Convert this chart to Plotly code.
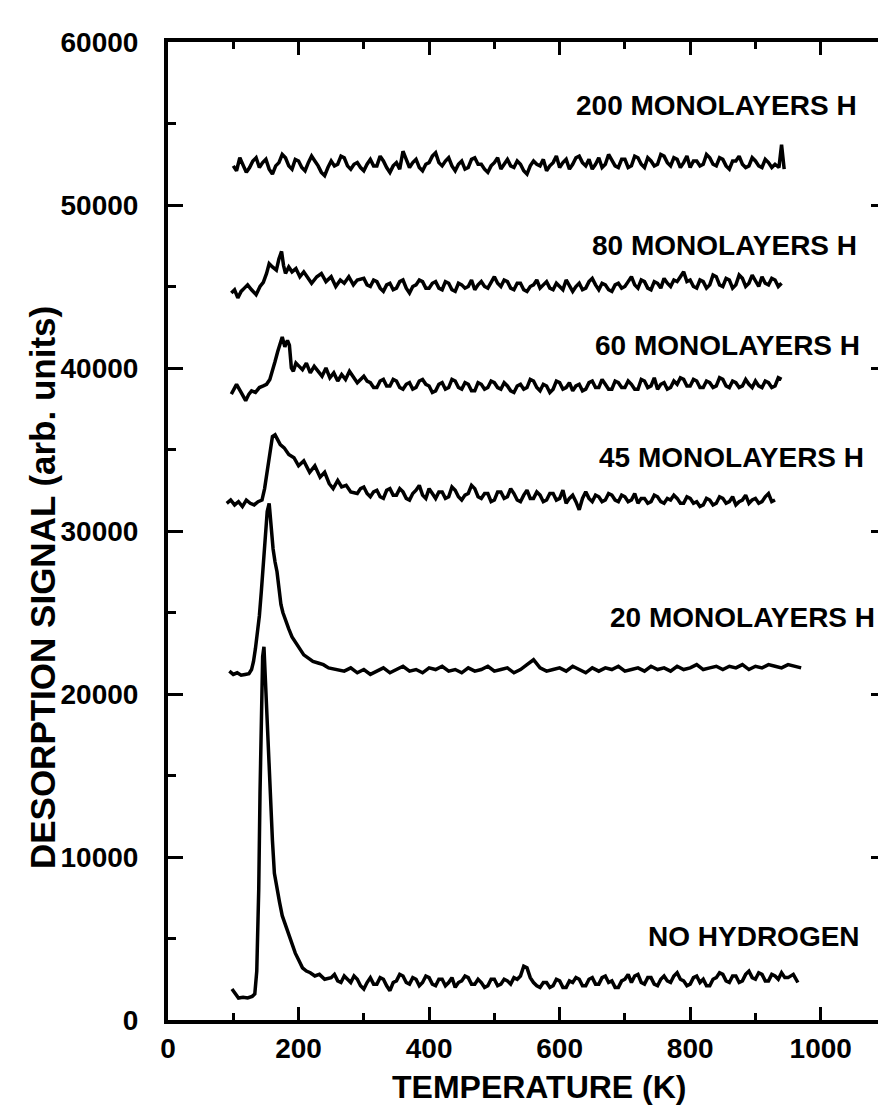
import plotly.graph_objects as go

# ---------------- data ----------------
# temperature sampling grids (K) for the flat parts of the curves
GRID10 = [90, 100, 110, 120, 130, 140, 150, 160, 170, 180,
          190, 200, 210, 220, 230, 240, 250, 260, 270, 280,
          290, 300, 310, 320, 330, 340, 350, 360, 370, 380,
          390, 400, 410, 420, 430, 440, 450, 460, 470, 480,
          490, 500, 510, 520, 530, 540, 550, 560, 570, 580,
          590, 600, 610, 620, 630, 640, 650, 660, 670, 680,
          690, 700, 710, 720, 730, 740, 750, 760, 770, 780,
          790, 800, 810, 820, 830, 840, 850, 860, 870, 880,
          890, 900, 910, 920, 930, 940, 950, 960, 970]
GRID5 = [90, 95, 100, 105, 110, 115, 120, 125, 130, 135,
         140, 145, 150, 155, 160, 165, 170, 175, 180, 185,
         190, 195, 200, 205, 210, 215, 220, 225, 230, 235,
         240, 245, 250, 255, 260, 265, 270, 275, 280, 285,
         290, 295, 300, 305, 310, 315, 320, 325, 330, 335,
         340, 345, 350, 355, 360, 365, 370, 375, 380, 385,
         390, 395, 400, 405, 410, 415, 420, 425, 430, 435,
         440, 445, 450, 455, 460, 465, 470, 475, 480, 485,
         490, 495, 500, 505, 510, 515, 520, 525, 530, 535,
         540, 545, 550, 555, 560, 565, 570, 575, 580, 585,
         590, 595, 600, 605, 610, 615, 620, 625, 630, 635,
         640, 645, 650, 655, 660, 665, 670, 675, 680, 685,
         690, 695, 700, 705, 710, 715, 720, 725, 730, 735,
         740, 745, 750, 755, 760, 765, 770, 775, 780, 785,
         790, 795, 800, 805, 810, 815, 820, 825, 830, 835,
         840, 845, 850, 855, 860, 865, 870, 875, 880, 885,
         890, 895, 900, 905, 910, 915, 920, 925, 930, 935,
         940, 945, 950, 955, 960, 965, 970]

# NO HYDROGEN
noh_peak_T = [98, 103, 108, 115, 122, 129, 133, 136, 139, 141,
              143, 145, 147, 149, 151, 154, 157, 160, 163, 167,
              171, 175, 180, 185, 190, 195, 200, 206, 212, 218,
              225, 232, 240]
noh_peak_S = [1900, 1600, 1350, 1400, 1350, 1450, 1600, 3000, 8000, 14000,
              19500, 22300, 22900, 21000, 18500, 15500, 13500, 11000, 9000, 8000,
              7200, 6400, 5800, 5200, 4600, 4100, 3700, 3200, 3000, 2900,
              2700, 2800, 2500]
noh_tail_start = 250
noh_tail_S = [2600, 2800, 2400, 2300, 2700, 2500, 2300, 2700, 2500, 2100,
              1900, 2300, 2600, 2200, 2200, 2600, 2500, 2100, 1800, 2300,
              2400, 2800, 2700, 2300, 2200, 2600, 2500, 2100, 2300, 2700,
              2600, 2200, 2100, 2500, 2500, 2100, 2300, 2600, 2000, 2300,
              2400, 2700, 2600, 2200, 2200, 2500, 2300, 2000, 2100, 2500,
              2500, 2100, 2200, 2500, 2400, 2200, 2600, 2500, 2700, 3300,
              3200, 2600, 2300, 2100, 2000, 2300, 2300, 2000, 2100, 2500,
              2400, 2000, 2000, 2400, 2300, 2600, 2500, 2100, 2100, 2500,
              2600, 2200, 2200, 2600, 2700, 2300, 2400, 2000, 2000, 2400,
              2500, 2800, 2300, 2700, 2800, 2300, 2200, 2600, 2600, 2200,
              2100, 2500, 2700, 2400, 2300, 2700, 2900, 2500, 2400, 2100,
              2200, 2600, 2700, 2300, 2500, 2100, 2100, 2500, 2600, 2900,
              2800, 2400, 2300, 2700, 2700, 2300, 2400, 2800, 3000, 2600,
              2500, 2900, 2800, 2400, 2400, 2800, 2700, 2500, 2900, 2600,
              2600]
noh_end_T = [958, 965]
noh_end_S = [2800, 2300]

# 20 MONOLAYERS H
ml20_peak_T = [94, 100, 106, 112, 118, 124, 128, 131, 134, 137,
               140, 143, 146, 149, 152, 155, 158, 161, 164, 167,
               170, 173, 176, 180, 185, 190, 196, 202, 208, 215,
               222, 230, 238, 246]
ml20_peak_S = [21400, 21200, 21300, 21150, 21200, 21250, 21500, 22000, 22800, 23700,
               24800, 26300, 28000, 29800, 31200, 31700, 30200, 28900, 28100, 27500,
               26500, 25500, 25000, 24500, 24000, 23500, 23100, 22800, 22400, 22200,
               22000, 21900, 21800, 21600]
ml20_tail_start = 260
ml20_tail_S = [21500, 21400, 21600, 21300, 21500, 21200, 21400, 21600, 21300, 21500,
               21700, 21400, 21500, 21300, 21600, 21500, 21700, 21400, 21500, 21300,
               21600, 21400, 21500, 21700, 21400, 21500, 21600, 21300, 21500, 21800,
               22100, 21600, 21400, 21500, 21600, 21400, 21700, 21500, 21300, 21600,
               21400, 21600, 21500, 21700, 21400, 21500, 21600, 21400, 21700, 21500,
               21600, 21400, 21700, 21500, 21600, 21800, 21500, 21600, 21700, 21500,
               21700, 21600, 21800, 21500, 21700, 21600, 21800, 21700, 21600, 21800,
               21700, 21600]

# 45 MONOLAYERS H
ml45_peak_T = [90, 96, 102, 108, 114, 120, 126, 132, 138, 144,
               148, 152, 156, 160, 164, 168, 172, 178, 185, 193,
               200, 208, 217, 225, 233, 240, 247, 253, 260, 266,
               273, 280]
ml45_peak_S = [31700, 31900, 31600, 31800, 31500, 31900, 31700, 31600, 31800, 31900,
               32600, 33800, 35000, 35800, 35900, 35600, 35300, 35100, 34700, 34500,
               34000, 34300, 33600, 34000, 33300, 33600, 32900, 32600, 33100, 32700,
               32800, 32400]
ml45_tail_start = 290
ml45_tail_S = [32300, 32600, 32700, 32300, 32100, 32400, 32500, 32100, 32000, 32500,
               32600, 32200, 32200, 32600, 32400, 32000, 31900, 32300, 32500, 32800,
               32200, 32000, 32600, 32300, 32000, 32400, 32400, 32000, 32100, 32700,
               32500, 32100, 31900, 32200, 32300, 32800, 32600, 32100, 32000, 32300,
               32300, 31800, 31900, 32400, 32400, 32000, 32100, 32600, 32300, 31900,
               31800, 32200, 32500, 32000, 32000, 32400, 32200, 31800, 31900, 32300,
               32300, 31900, 32000, 32500, 31700, 32000, 32200, 31800, 31300, 32000,
               32400, 32000, 31800, 32200, 32100, 31800, 31900, 32300, 32200, 31900,
               31800, 32200, 32100, 31800, 31900, 32300, 31700, 32000, 32000, 31700,
               31800, 32200, 32100, 31800, 31700, 32000, 31900, 32200, 32000, 31700,
               31700, 32100, 32000, 31700, 31800, 31500, 31600, 32000, 31900, 31600,
               31700, 32100, 32000, 31700, 31800, 32100, 31600, 31800, 31900, 32200,
               31700, 31900, 32000, 31700, 31800, 32100, 32300, 31800, 31900]

# 60 MONOLAYERS H
ml60_peak_T = [97, 105, 112, 119, 124, 128, 134, 140, 146, 151,
               156, 160, 164, 168, 172, 175, 179, 183, 186, 189,
               192, 196, 201, 206, 212, 218, 224, 230, 236, 242,
               248, 254, 260, 266, 272, 278, 284, 290]
ml60_peak_S = [38400, 39000, 38500, 38000, 38400, 38600, 38500, 38800, 38900, 39000,
               39300, 39800, 40400, 41000, 41500, 41900, 41300, 41700, 41400, 40000,
               39800, 40300, 40100, 39900, 40300, 39700, 40100, 39800, 39500, 40000,
               39400, 39700, 39200, 39600, 39300, 39800, 39400, 39100]
ml60_tail_start = 300
ml60_tail_S = [39500, 39200, 39100, 38800, 38800, 39200, 39300, 38900, 38900, 39300,
               39200, 38800, 38700, 39000, 39100, 38700, 38800, 39200, 39300, 39000,
               38900, 38500, 38600, 39000, 39100, 38700, 38800, 39300, 39200, 38800,
               38700, 39100, 39000, 38600, 38600, 39100, 39000, 38700, 38800, 39200,
               39100, 38800, 38700, 39100, 38900, 38600, 38500, 38900, 39000, 38700,
               38800, 39300, 39200, 38800, 38600, 39000, 38900, 38500, 38700, 39200,
               39100, 38700, 38800, 39100, 38600, 38900, 39000, 38600, 38700, 39100,
               39200, 38800, 38800, 39300, 39000, 38700, 38700, 39200, 39100, 38800,
               38800, 39200, 39000, 38700, 38700, 39300, 39200, 38800, 38900, 39400,
               38700, 39000, 39100, 38700, 38800, 39200, 39000, 39400, 39300, 38900,
               38900, 39300, 39200, 38800, 38800, 39200, 39100, 38800, 38900, 39400,
               39300, 38900, 38800, 39200, 39100, 38800, 38900, 39300, 39000, 38800,
               39200, 38900, 38800, 39200, 39100, 38800, 38900, 39400, 39300]

# 80 MONOLAYERS H
ml80_peak_T = [97, 102, 107, 112, 117, 122, 128, 135, 141, 146,
               151, 155, 160, 166, 170, 174, 177, 180, 185, 190,
               196, 202, 208, 214, 220, 228, 235, 242, 250, 257,
               264, 270, 277, 284, 290]
ml80_peak_S = [44600, 44800, 44300, 44700, 44900, 45100, 44800, 44500, 45000, 45250,
               45800, 46400, 46200, 46000, 46700, 47150, 46300, 45800, 46200, 45900,
               46100, 45600, 45900, 45500, 45200, 45600, 45800, 45300, 45600, 45000,
               45400, 45200, 45600, 45100, 45400]
ml80_tail_start = 300
ml80_tail_S = [45500, 45100, 45000, 45400, 45300, 44900, 44700, 45100, 45200, 44800,
               44900, 45300, 45400, 44900, 44600, 45000, 45100, 45400, 45300, 44900,
               44900, 45200, 45300, 44900, 44800, 45300, 45200, 44800, 44700, 45200,
               45100, 44900, 45000, 45400, 44800, 45100, 45300, 45000, 44900, 45300,
               45600, 45200, 45000, 45400, 45300, 44900, 44800, 45200, 45200, 44800,
               44700, 45000, 45100, 45400, 44900, 45100, 45300, 44900, 44800, 45200,
               45000, 44800, 45400, 45000, 44700, 45000, 45200, 44800, 44900, 45300,
               45500, 45100, 44800, 45200, 45100, 44800, 44700, 45100, 45200, 44900,
               45000, 45300, 45600, 45100, 44900, 45400, 45300, 44900, 44800, 45300,
               45200, 44900, 45500, 45200, 45000, 45400, 45300, 45600, 45900, 45300,
               45400, 45000, 44900, 45400, 45300, 44900, 45100, 45700, 45600, 45100,
               45000, 45500, 45400, 44900, 45100, 45700, 45500, 45000, 45200, 45700,
               45300, 45000, 45600, 45200, 45100, 45500, 45400, 45000, 45200]

# 200 MONOLAYERS H
ml200_tail_start = 100
ml200_tail_S = [52400, 52100, 52900, 52500, 52000, 52300, 52700, 52900, 52300, 52600,
                52800, 52200, 51900, 52400, 52600, 53100, 52900, 52400, 52200, 52800,
                52700, 52300, 52100, 52600, 53000, 52700, 52400, 52000, 51800, 52300,
                52700, 52400, 52500, 53000, 52900, 52400, 52200, 52500, 52600, 52300,
                52100, 52500, 52800, 52400, 52400, 53000, 52700, 52300, 52000, 52400,
                52600, 52200, 53300, 52800, 52300, 52600, 52800, 52300, 52100, 52500,
                52600, 53000, 53200, 52600, 52400, 52700, 52900, 52400, 52100, 52500,
                52700, 52200, 52300, 52800, 52900, 52500, 52500, 52200, 52000, 52400,
                52600, 52900, 52200, 52500, 52800, 52400, 52300, 52700, 52500, 52100,
                51900, 52400, 52700, 52500, 52400, 52800, 52100, 52400, 52600, 53000,
                52300, 52600, 52800, 52200, 52500, 52900, 53000, 52600, 52400, 52800,
                52200, 52500, 52900, 52300, 52500, 53100, 52700, 52400, 52300, 52800,
                52800, 52300, 52400, 53000, 52900, 52500, 52300, 52900, 52700, 52400,
                52500, 53100, 53000, 52600, 52400, 52900, 52800, 52300, 52600, 53000,
                52300, 52700, 52700, 52400, 52500, 53100, 52900, 52500, 52400, 52900,
                52800, 52400, 52200, 52700, 52700, 53000, 52500, 52300, 52400, 52900,
                52700, 52400, 52300, 52800, 52600, 52300, 52500]
ml200_end_T = [936, 940, 944]
ml200_end_S = [52300, 53700, 52200]

# curve labels: text, x (K) of right end, y (signal) of centre
label_text = ["200 MONOLAYERS H", "80 MONOLAYERS H", "60 MONOLAYERS H",
              "45 MONOLAYERS H", "20 MONOLAYERS H", "NO HYDROGEN"]
label_x = [1059, 1059, 1063, 1069, 1086, 1063]
label_y = [56100, 47500, 41400, 34500, 24700, 5150]

x_ticks = [0, 200, 400, 600, 800, 1000]
y_ticks = [0, 10000, 20000, 30000, 40000, 50000, 60000]


def tail(grid, start, values):
    i = grid.index(start)
    return grid[i:i + len(values)]


curves = [
    (noh_peak_T + tail(GRID5, noh_tail_start, noh_tail_S) + noh_end_T,
     noh_peak_S + noh_tail_S + noh_end_S),
    (ml20_peak_T + tail(GRID10, ml20_tail_start, ml20_tail_S),
     ml20_peak_S + ml20_tail_S),
    (ml45_peak_T + tail(GRID5, ml45_tail_start, ml45_tail_S),
     ml45_peak_S + ml45_tail_S),
    (ml60_peak_T + tail(GRID5, ml60_tail_start, ml60_tail_S),
     ml60_peak_S + ml60_tail_S),
    (ml80_peak_T + tail(GRID5, ml80_tail_start, ml80_tail_S),
     ml80_peak_S + ml80_tail_S),
    (tail(GRID5, ml200_tail_start, ml200_tail_S) + ml200_end_T,
     ml200_tail_S + ml200_end_S),
]

FONT = "Liberation Sans, Arial, Helvetica, sans-serif"

fig = go.Figure()
for T, S in curves:
    n = min(len(T), len(S))
    fig.add_trace(go.Scatter(x=T[:n], y=S[:n], mode="lines",
                             line=dict(color="black", width=3.5),
                             showlegend=False, hoverinfo="skip"))

for txt, lx, ly in zip(label_text, label_x, label_y):
    fig.add_annotation(x=lx, y=ly, xref="x", yref="y", text=txt,
                       showarrow=False, xanchor="right", yanchor="middle",
                       font=dict(family=FONT, size=28, color="black",
                                 weight="bold"))

# axis titles
fig.add_annotation(x=0.517, y=-0.068, xref="paper", yref="paper",
                   text="TEMPERATURE (K)", showarrow=False,
                   xanchor="center", yanchor="middle",
                   font=dict(family=FONT, size=32, color="black",
                             weight="bold"))
fig.add_annotation(x=-0.175, y=0.442, xref="paper", yref="paper",
                   text="DESORPTION SIGNAL (arb. units)", showarrow=False,
                   textangle=-90, xanchor="center", yanchor="middle",
                   font=dict(family=FONT, size=35, color="black",
                             weight="bold"))

tickfont = dict(family=FONT, size=28, color="black", weight="bold")

fig.update_layout(
    width=886, height=1108,
    margin=dict(l=160, r=4, t=34, b=96),
    paper_bgcolor="white", plot_bgcolor="white",
    font=dict(family=FONT, size=28, color="black"),
    xaxis=dict(range=[0, 1100], tickvals=x_ticks,
               ticktext=[str(v) for v in x_ticks],
               ticks="inside", ticklen=13, tickwidth=3, tickcolor="black",
               minor=dict(dtick=100, tick0=0, ticks="inside", ticklen=7,
                          tickwidth=3, tickcolor="black"),
               showline=True, linewidth=4, linecolor="black",
               mirror="allticks", showgrid=False, zeroline=False,
               tickfont=tickfont, ticklabelstandoff=0),
    yaxis=dict(range=[0, 60000], tickvals=y_ticks,
               ticktext=[str(v) for v in y_ticks],
               ticks="inside", ticklen=15, tickwidth=3, tickcolor="black",
               minor=dict(dtick=5000, tick0=0, ticks="inside", ticklen=8,
                          tickwidth=3, tickcolor="black"),
               showline=True, linewidth=4, linecolor="black",
               mirror="allticks", showgrid=False, zeroline=False,
               tickfont=tickfont, ticklabelstandoff=20),
)

fig.write_html("out.html")
